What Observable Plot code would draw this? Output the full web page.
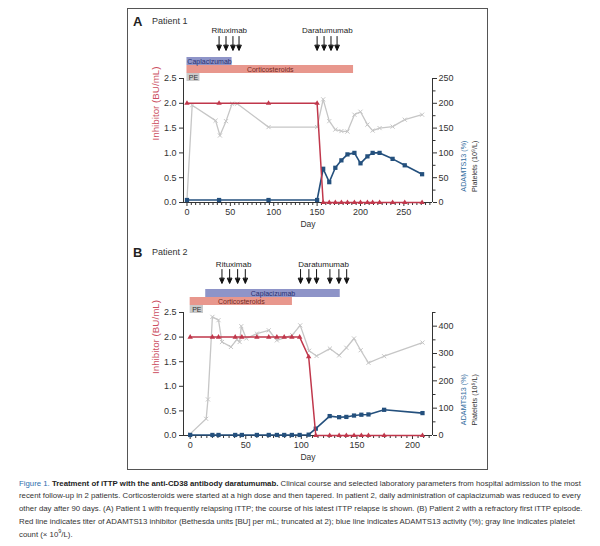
<!DOCTYPE html>
<html>
<head>
<meta charset="utf-8">
<script src="https://cdn.jsdelivr.net/npm/d3@7"></script>
<script src="https://cdn.jsdelivr.net/npm/@observablehq/plot@0.6"></script>
<style>
  body { margin: 0; background: #fff; }
  #page { position: relative; width: 600px; height: 546px; overflow: hidden; background: #fff;
          font-family: "Liberation Sans", Arial, sans-serif; color: #222; }
  #frame { position: absolute; left: 127px; top: 8px; width: 361px; height: 462px;
           border: 1px solid #555; box-sizing: border-box; }
  .layer { position: absolute; left: 127px; }
  .layer svg { display: block; }
  .letter { position: absolute; font-weight: bold; font-size: 13px; line-height: 13px; }
  .patient { position: absolute; font-size: 9px; line-height: 9px; color: #333; }
  #caption { position: absolute; left: 19px; top: 477.5px; font-size: 7.8px; line-height: 12.8px;
             color: #333; white-space: nowrap; }
  #caption .fig { color: #2f6fae; }
  #caption b { color: #222; }
  #caption sup { font-size: 5.5px; line-height: 0; }
</style>
</head>
<body>
<div id="page">
  <div id="frame"></div>
  <div class="letter" style="left:133px;top:15px">A</div>
  <div class="patient" style="left:152px;top:16.5px">Patient 1</div>
  <div class="letter" style="left:133px;top:246px">B</div>
  <div class="patient" style="left:152px;top:247.5px">Patient 2</div>
  <div class="layer" id="chartA" style="top:60px"></div>
  <div class="layer" id="barsA" style="top:55px"></div>
  <div class="layer" id="dosesA" style="top:20px"></div>
  <div class="layer" id="chartB" style="top:294px"></div>
  <div class="layer" id="barsB" style="top:287px"></div>
  <div class="layer" id="dosesB" style="top:254px"></div>
  <div id="caption">
    <div><span class="fig">Figure 1.</span> <b>Treatment of iTTP with the anti-CD38 antibody daratumumab.</b> Clinical course and selected laboratory parameters from hospital admission to the most</div>
    <div>recent follow-up in 2 patients. Corticosteroids were started at a high dose and then tapered. In patient 2, daily administration of caplacizumab was reduced to every</div>
    <div>other day after 90 days. (A) Patient 1 with frequently relapsing iTTP; the course of his latest iTTP relapse is shown. (B) Patient 2 with a refractory first iTTP episode.</div>
    <div>Red line indicates titer of ADAMTS13 inhibitor (Bethesda units [BU] per mL; truncated at 2); blue line indicates ADAMTS13 activity (%); gray line indicates platelet</div>
    <div>count (× 10<sup>9</sup>/L).</div>
  </div>
</div>
<script>
// ---- Patient 1 ----
const inhDaysA = [0, 37, 94, 150, 157, 164, 171, 178, 185, 193, 200, 208, 214, 222, 237, 251, 271];
const inhibitorA = [2, 2, 2, 2, 0, 0, 0, 0, 0, 0, 0, 0, 0, 0, 0, 0, 0];            // BU/mL
const adamtsA = [5, 5, 5, 5, 68, 41, 70, 85, 97, 100, 79, 93, 100, 100, 88, 75, 57]; // %
const pltDaysA = [0, 6, 33, 38, 45, 52, 58, 94, 150, 157, 164, 171, 178, 185, 193, 200, 208, 214, 222, 237, 251, 271];
const plateletsA = [5, 196, 165, 135, 164, 199, 199, 152, 152, 208, 164, 147, 144, 143, 177, 183, 157, 145, 150, 153, 167, 177];
const rituximabA = [37, 45, 53, 60];
const daratumumabA = [150, 158, 166, 173];
const therapyStartA = [0, 0, 0];
const therapyEndA = [52, 192, 15];

// ---- Patient 2 ----
const daysB = [0, 20, 25.5, 40.5, 46.5, 60, 70.7, 78, 84.6, 91.5, 98.5, 106.6, 113, 125.5, 134, 140.5, 147.4, 154, 160.4, 174.5, 209];
const inhibitorB = [2, 2, 2, 2, 2, 2, 2, 2, 2, 2, 2, 1.6, 0, 0, 0, 0, 0, 0, 0, 0, 0];
const adamtsB = [2, 2, 2, 2, 2, 2, 2, 2, 2, 2, 2, 3, 25, 71, 67, 68, 73, 76, 77, 94, 82];
const pltDaysB = [0, 14.4, 16, 20, 25.5, 28.6, 36.7, 42, 44.5, 46, 50.5, 60, 70.7, 78, 91.8, 99, 107, 113.7, 125.7, 134, 140.5, 147.4, 153.4, 160.4, 174.5, 209];
const plateletsB = [6, 61, 132, 434, 422, 342, 324, 351, 342, 400, 355, 373, 385, 348, 367, 403, 310, 291, 318, 293, 321, 355, 312, 266, 290, 340];
const rituximabB = [28.6, 35.5, 42.7, 49.6];
const daratumumabB = [99.3, 106.8, 113.7, 125.7, 133.8, 140.8];
const therapyStartB = [14, 0, 0];
const therapyEndB = [135, 92, 12];

const therapyNames = ["Caplacizumab", "Corticosteroids", "PE"];
const dayTicks = [0, 50, 100, 150, 200, 250];
const inhibitorTicks = [0, 0.5, 1, 1.5, 2, 2.5];

const FONT = '"Liberation Sans", Arial, sans-serif';
const RED = "#c0374b", TITLE_RED = "#cc4f62", BLUE = "#24507d", TITLE_BLUE = "#2f6a9c", GRAY = "#c6c6c6", INK = "#333";
const therapyFill = {Caplacizumab: "#8e94c8", Corticosteroids: "#e8978d", PE: "#c9c9c9"};
const therapyInk = {Caplacizumab: "#283070", Corticosteroids: "#742822", PE: "#333"};
const W = 361, M = 56;

// Dose arrow: thin shaft with a small filled head at the tip
const doseArrow = {
  draw(context, l) {
    const head = 5, wing = 2.2;
    context.moveTo(0, 0);
    context.lineTo(0, -l + head);
    context.moveTo(-wing, head - l);
    context.lineTo(0, -l);
    context.lineTo(wing, head - l);
    context.closePath();
  }
};

function panelChart({xDomain, height, inhDays, inhibitor, actDays, adamts, pltDays, platelets, rightMax, rightMajor, rightMinorStep}) {
  const k = rightMax / 2.5; // right-axis units per BU/mL
  const inh = inhDays.map((day, i) => ({day, v: inhibitor[i]}));
  const act = actDays.map((day, i) => ({day, v: adamts[i] / k}));
  const plt = pltDays.map((day, i) => ({day, v: platelets[i] / k}));
  const minorX = d3.range(0, xDomain[1], 5).filter(t => t % 50 !== 0);
  const rightMinor = d3.range(0, rightMax + 1, rightMinorStep).filter(t => !rightMajor.includes(t));
  return Plot.plot({
    width: W, height, marginLeft: M, marginRight: M, marginTop: 18, marginBottom: 33,
    style: {background: "none", fontFamily: FONT, fontSize: "9px", color: INK, overflow: "visible"},
    x: {domain: xDomain},
    y: {domain: [0, 2.5]},
    marks: [
      Plot.ruleY([0], {stroke: INK}),
      Plot.ruleX(xDomain, {stroke: INK}),
      Plot.axisX({ticks: dayTicks.filter(t => t <= xDomain[1]), tickSize: 4, tickPadding: 2.5, label: null}),
      Plot.axisX({ticks: minorX, tickSize: 3, tickFormat: () => "", label: null}),
      Plot.axisY({ticks: inhibitorTicks, tickSize: 4, tickPadding: 3, tickFormat: d3.format(".1f"), label: null}),
      Plot.axisY({anchor: "right", ticks: rightMajor.map(v => v / k), tickSize: 4, tickPadding: 2,
                  tickFormat: v => d3.format("d")(Math.round(v * k)), label: null}),
      Plot.axisY({anchor: "right", ticks: rightMinor.map(v => v / k), tickSize: 2.5, tickFormat: () => "", label: null}),
      Plot.text(["Inhibitor (BU/mL)"], {text: d => d, frameAnchor: "left", rotate: -90, dx: -28, fill: TITLE_RED, fontSize: 9.8}),
      Plot.text(["ADAMTS13 (%)"], {text: d => d, frameAnchor: "right", rotate: -90, dx: 31, fill: TITLE_BLUE, fontSize: 7.2}),
      Plot.text(["Platelets (10⁹/L)"], {text: d => d, frameAnchor: "right", rotate: -90, dx: 42, fill: INK, fontSize: 7.2}),
      Plot.text(["Day"], {text: d => d, frameAnchor: "bottom", dy: 24, fill: INK, fontSize: 8.5}),
      Plot.line(plt, {x: "day", y: "v", stroke: GRAY, strokeWidth: 1.3}),
      Plot.dot(plt, {x: "day", y: "v", symbol: "times", r: 2, stroke: GRAY, strokeWidth: 1}),
      Plot.line(act, {x: "day", y: "v", stroke: BLUE, strokeWidth: 1.6}),
      Plot.dot(act, {x: "day", y: "v", symbol: "square", r: 2.4, fill: BLUE, stroke: "none"}),
      Plot.line(inh, {x: "day", y: "v", stroke: RED, strokeWidth: 1.5}),
      Plot.dot(inh, {x: "day", y: "v", symbol: "triangle", r: 2, fill: RED, stroke: "none"})
    ]
  });
}

function therapyBars({xDomain, starts, ends}) {
  const rows = therapyNames.map((name, i) => ({name, start: starts[i], end: ends[i]}));
  return Plot.plot({
    width: W, height: 27, marginLeft: M, marginRight: M, marginTop: 0, marginBottom: 0,
    style: {background: "none", fontFamily: FONT, overflow: "visible"},
    x: {domain: xDomain, axis: null},
    y: {domain: therapyNames, axis: null, padding: 0.06},
    color: {type: "identity"},
    marks: [
      Plot.barX(rows, {x1: "start", x2: "end", y: "name", fill: d => therapyFill[d.name]}),
      Plot.text(rows, {x: d => (d.start + d.end) / 2, y: "name", text: "name", fill: d => therapyInk[d.name], fontSize: 7})
    ]
  });
}

function doseStrip({xDomain, height, rituximab, daratumumab}) {
  const courses = [{name: "Rituximab", days: rituximab}, {name: "Daratumumab", days: daratumumab}];
  const doses = courses.flatMap(c => c.days);
  return Plot.plot({
    width: W, height, marginLeft: M, marginRight: M, marginTop: 0, marginBottom: 0,
    style: {background: "none", fontFamily: FONT, overflow: "visible"},
    x: {domain: xDomain, axis: null},
    marks: [
      Plot.text(courses, {x: c => d3.mean(c.days), text: "name", frameAnchor: "top", dy: 7, fontSize: 8, fill: "#222"}),
      Plot.vector(doses, {x: d => d, frameAnchor: "bottom", anchor: "end", rotate: 180, length: 14,
                          shape: doseArrow, stroke: "#111", fill: "#111", strokeWidth: 1})
    ]
  });
}

const xDomainA = [-4, 283];
const xDomainB = [-6, 218];

document.getElementById("chartA").append(panelChart({
  xDomain: xDomainA, height: 175, inhDays: inhDaysA, inhibitor: inhibitorA, actDays: inhDaysA, adamts: adamtsA,
  pltDays: pltDaysA, platelets: plateletsA, rightMax: 250, rightMajor: [0, 50, 100, 150, 200, 250], rightMinorStep: 25
}));
document.getElementById("barsA").append(therapyBars({xDomain: xDomainA, starts: therapyStartA, ends: therapyEndA}));
document.getElementById("dosesA").append(doseStrip({xDomain: xDomainA, height: 30, rituximab: rituximabA, daratumumab: daratumumabA}));

document.getElementById("chartB").append(panelChart({
  xDomain: xDomainB, height: 174, inhDays: daysB, inhibitor: inhibitorB, actDays: daysB, adamts: adamtsB,
  pltDays: pltDaysB, platelets: plateletsB, rightMax: 450, rightMajor: [0, 100, 200, 300, 400], rightMinorStep: 50
}));
document.getElementById("barsB").append(therapyBars({xDomain: xDomainB, starts: therapyStartB, ends: therapyEndB}));
document.getElementById("dosesB").append(doseStrip({xDomain: xDomainB, height: 29, rituximab: rituximabB, daratumumab: daratumumabB}));
</script>
</body>
</html>
